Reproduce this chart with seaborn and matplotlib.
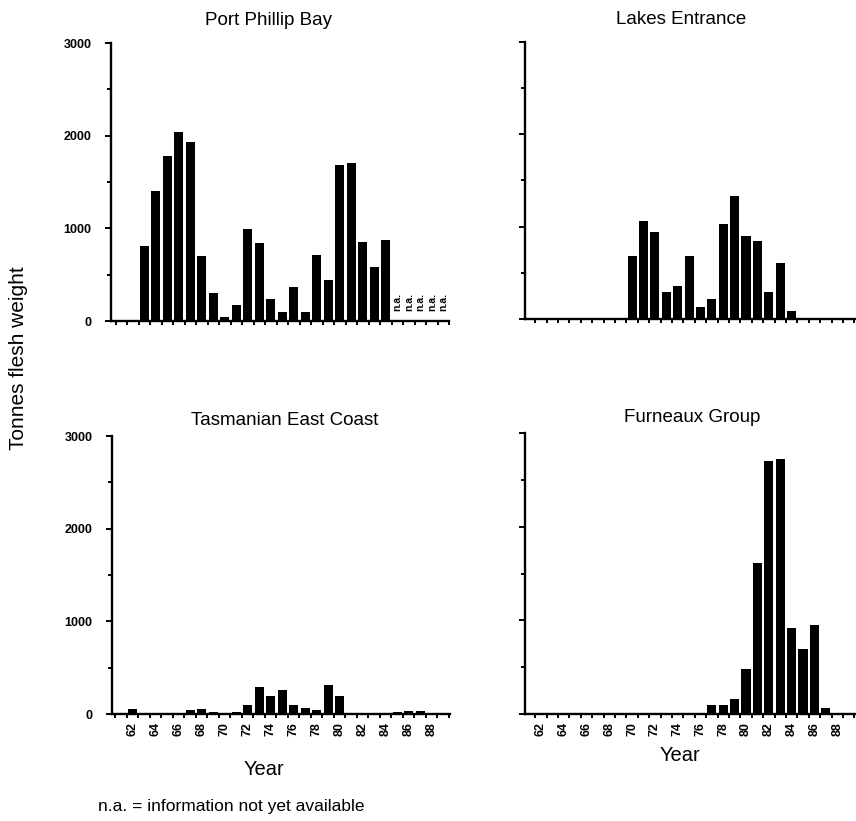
import numpy as np
import pandas as pd
import matplotlib.pyplot as plt
import seaborn as sns
from matplotlib.ticker import MultipleLocator, FixedLocator

# catch (tonnes flesh weight) by year
ppb_years = list(range(63, 85))
ppb_values = [806, 1406, 1777, 2036, 1935, 705, 306, 43, 173, 993, 842,
              234, 97, 370, 97, 712, 446, 1680, 1705, 849, 583, 874]
ppb_na_years = [85, 86, 87, 88, 89]

lakes_years = list(range(70, 85))
lakes_values = [678, 1056, 944, 296, 352, 681, 130, 219, 1026, 1333,
                896, 844, 296, 604, 85]

tas_years = [62, 67, 68, 69, 71, 72, 73, 74, 75, 76, 77, 78, 79, 80, 85, 86, 87]
tas_values = [50, 45, 50, 20, 20, 100, 290, 190, 260, 100, 70, 45, 310, 190, 20, 30, 30]

furn_years = list(range(77, 88))
furn_values = [100, 100, 160, 480, 1610, 2700, 2725, 920, 690, 955, 65]

label_years = list(range(62, 89, 2))

sns.set_style('ticks')
plt.rcParams['font.family'] = ['Liberation Sans', 'DejaVu Sans']
plt.rcParams['text.color'] = 'black'
plt.rcParams['axes.labelcolor'] = 'black'
plt.rcParams['xtick.color'] = 'black'
plt.rcParams['ytick.color'] = 'black'

fig = plt.figure(figsize=(8.56, 8.21), dpi=100)

W, H = 856, 821
def axes_px(left, top, right, bottom):
    return fig.add_axes([left / W, 1 - bottom / H, (right - left) / W, (bottom - top) / H])

ax_ppb = axes_px(111, 43, 449, 321)
ax_lakes = axes_px(525, 42, 860, 319)
ax_tas = axes_px(112, 436, 450, 714)
ax_furn = axes_px(525, 433, 860, 714)

panels = [
    (ax_ppb, ppb_years, ppb_values, 'Port Phillip Bay', 0.465, 60.1, True, False, 13),
    (ax_lakes, lakes_years, lakes_values, 'Lakes Entrance', 0.465, 60.6, False, False, 13),
    (ax_tas, tas_years, tas_values, 'Tasmanian East Coast', 0.51, 60.2, True, True, 8),
    (ax_furn, furn_years, furn_values, 'Furneaux Group', 0.50, 60.6, False, True, 8),
]

for ax, yrs, vals, title, tx, xmin, ylab, xlab, tpad in panels:
    df = pd.DataFrame({'year': yrs, 'tonnes': vals})
    sns.barplot(data=df, x='year', y='tonnes', native_scale=True, color='black',
                saturation=1, width=0.8, linewidth=0, ax=ax)
    ax.set_xlim(xmin, xmin + 29.4)
    ax.set_ylim(0, 3000)
    sns.despine(ax=ax)
    for s in ['left', 'bottom']:
        ax.spines[s].set_linewidth(1.7)
        ax.spines[s].set_color('black')

    ax.yaxis.set_major_locator(FixedLocator([0, 1000, 2000, 3000]))
    ax.yaxis.set_minor_locator(MultipleLocator(500))
    ax.tick_params(axis='y', which='major', length=4, width=1.4, pad=10, labelsize=9)
    ax.tick_params(axis='y', which='minor', length=3, width=1.4)
    if not ylab:
        ax.set_yticklabels([])

    ax.xaxis.set_major_locator(FixedLocator(label_years))
    ax.xaxis.set_minor_locator(FixedLocator(np.arange(60.5, 89.6, 1)))
    ax.tick_params(axis='x', which='major', length=0, pad=6, labelsize=9)
    ax.tick_params(axis='x', which='minor', length=3, width=1.4)
    if xlab:
        ax.set_xticklabels([str(y) for y in label_years], rotation=90, fontweight='bold')
    else:
        ax.set_xticklabels([])
    for t in ax.get_yticklabels():
        t.set_fontweight('bold')

    ax.set_xlabel('')
    ax.set_ylabel('')
    ax.set_title(title, fontsize=13.5, x=tx, pad=tpad)

for y in ppb_na_years:
    ax_ppb.text(y, 110, 'n.a.', rotation=90, ha='center', va='bottom',
                fontsize=7.5, fontweight='bold')

ax_tas.set_xlabel('Year', fontsize=14.5)
ax_furn.set_xlabel('Year', fontsize=14.5)
# label centres in figure pixels: left (264, 769), right (680, 755)
ax_tas.xaxis.set_label_coords((264 - 112) / 338, -(769 - 714) / 278)
ax_furn.xaxis.set_label_coords((680 - 525) / 335, -(755 - 714) / 281)
ax_tas.xaxis.label.set_va('center')
ax_furn.xaxis.label.set_va('center')

fig.text(0.022, 0.564, 'Tonnes flesh weight', rotation=90, ha='center', va='center', fontsize=15)
fig.text(98 / W, 1 - 806 / H, 'n.a. = information not yet available', ha='left', va='center', fontsize=12.5)

fig.savefig('out.png', dpi=100, facecolor='white')
